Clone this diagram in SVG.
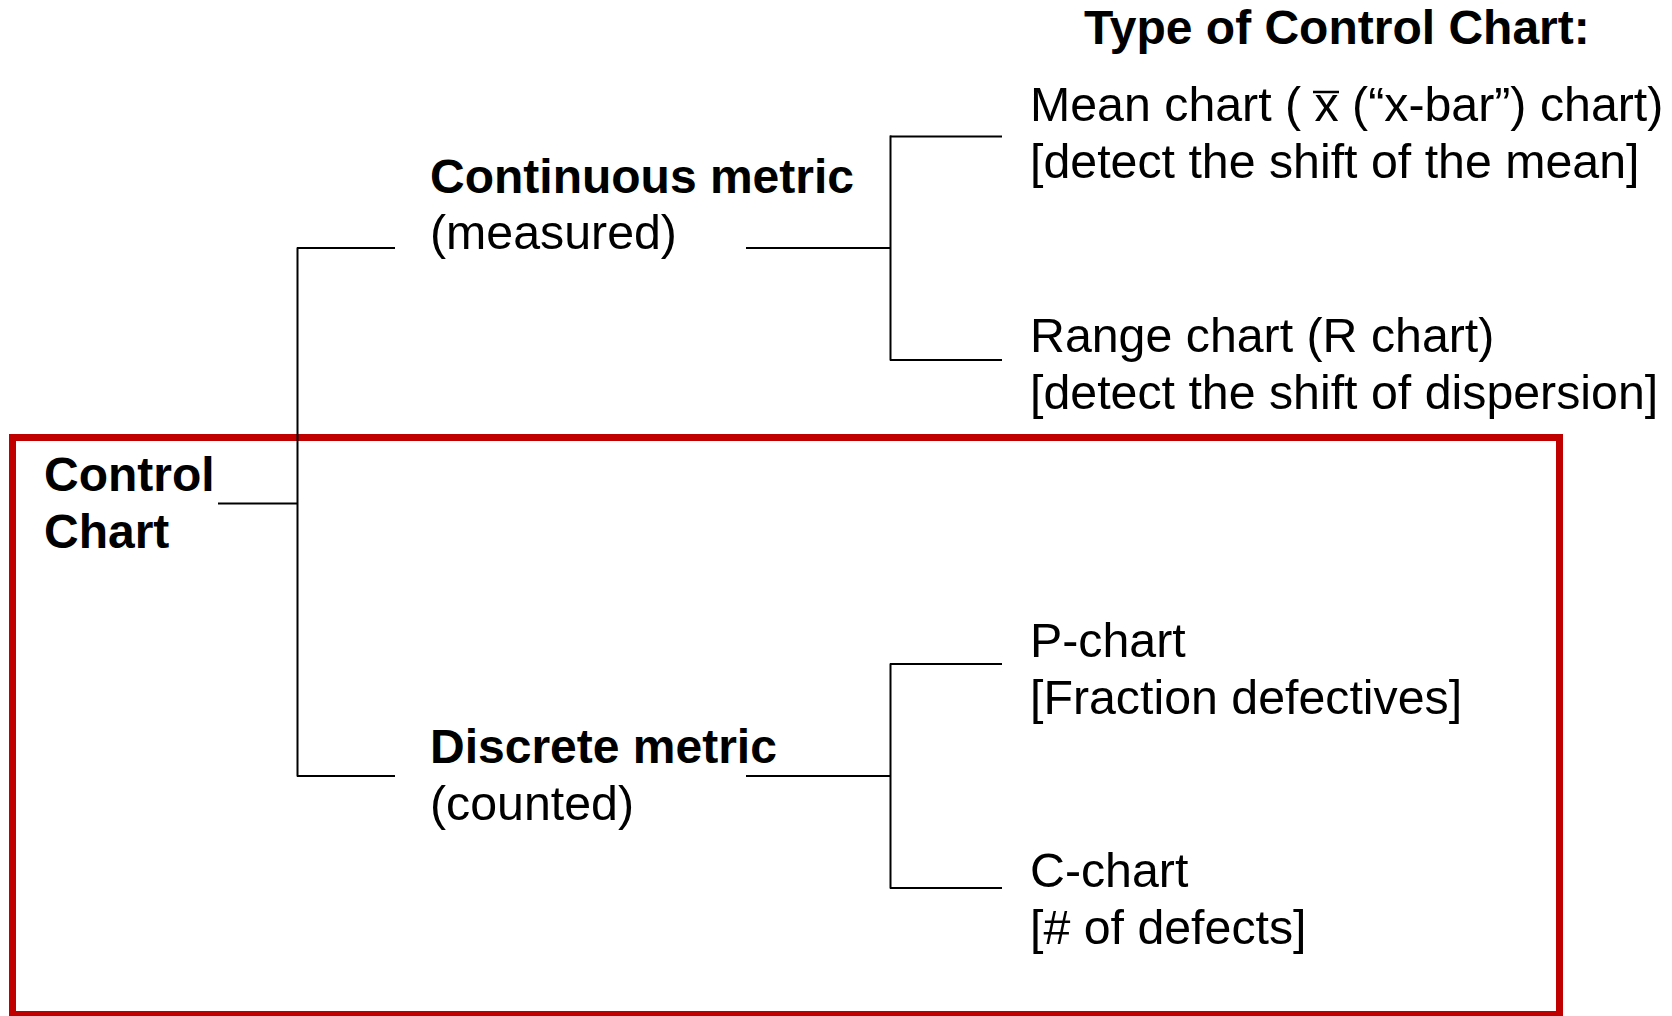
<svg xmlns="http://www.w3.org/2000/svg" width="1672" height="1016" viewBox="0 0 1672 1016">
  <style>
    text { font-family: "Liberation Sans", Arial, sans-serif; fill: #000; }
    .b { font-weight: bold; font-size: 48px; }
    .r { font-size: 48.3px; }
    .ln { stroke: #000; stroke-width: 2; fill: none; }
    .hl { stroke: #c00000; stroke-width: 7; fill: none; }
  </style>
  <rect width="1672" height="1016" fill="#fff"/>

  <g id="title">
    <text class="b" x="1084" y="44">Type of Control Chart:</text>
  </g>

  <g id="highlight-box">
    <rect class="hl" x="12.5" y="437.5" width="1547" height="577"/>
  </g>

  <g id="connectors">
    <line class="ln" x1="218" y1="503.5" x2="298" y2="503.5"/>
    <line class="ln" x1="297.5" y1="247.5" x2="297.5" y2="776.5"/>
    <line class="ln" x1="297" y1="248" x2="395" y2="248"/>
    <line class="ln" x1="297" y1="776" x2="395" y2="776"/>
    <line class="ln" x1="746" y1="248" x2="891" y2="248"/>
    <line class="ln" x1="890.5" y1="135.5" x2="890.5" y2="360.5"/>
    <line class="ln" x1="890" y1="136.5" x2="1002" y2="136.5"/>
    <line class="ln" x1="890" y1="360" x2="1002" y2="360"/>
    <line class="ln" x1="746" y1="776" x2="891" y2="776"/>
    <line class="ln" x1="890.5" y1="663.5" x2="890.5" y2="888.5"/>
    <line class="ln" x1="890" y1="664" x2="1002" y2="664"/>
    <line class="ln" x1="890" y1="888" x2="1002" y2="888"/>
  </g>

  <g id="node-control-chart">
    <text class="b" x="44" y="491">Control</text>
    <text class="b" x="44" y="548">Chart</text>
  </g>

  <g id="node-continuous">
    <text class="b" x="430" y="193">Continuous metric</text>
    <text class="r" x="430" y="249">(measured)</text>
  </g>

  <g id="node-discrete">
    <text class="b" x="430" y="763">Discrete metric</text>
    <text class="r" x="430" y="820">(counted)</text>
  </g>

  <g id="node-mean-chart">
    <text class="r" x="1030" y="121">Mean chart ( x (“x-bar”) chart)</text>
    <line x1="1313" y1="92" x2="1339" y2="92" stroke="#000" stroke-width="2.5"/>
    <text class="r" x="1030" y="178">[detect the shift of the mean]</text>
  </g>

  <g id="node-range-chart">
    <text class="r" x="1030" y="352">Range chart (R chart)</text>
    <text class="r" x="1030" y="409">[detect the shift of dispersion]</text>
  </g>

  <g id="node-p-chart">
    <text class="r" x="1030" y="657">P-chart</text>
    <text class="r" x="1030" y="714">[Fraction defectives]</text>
  </g>

  <g id="node-c-chart">
    <text class="r" x="1030" y="887">C-chart</text>
    <text class="r" x="1030" y="944">[# of defects]</text>
  </g>
</svg>
